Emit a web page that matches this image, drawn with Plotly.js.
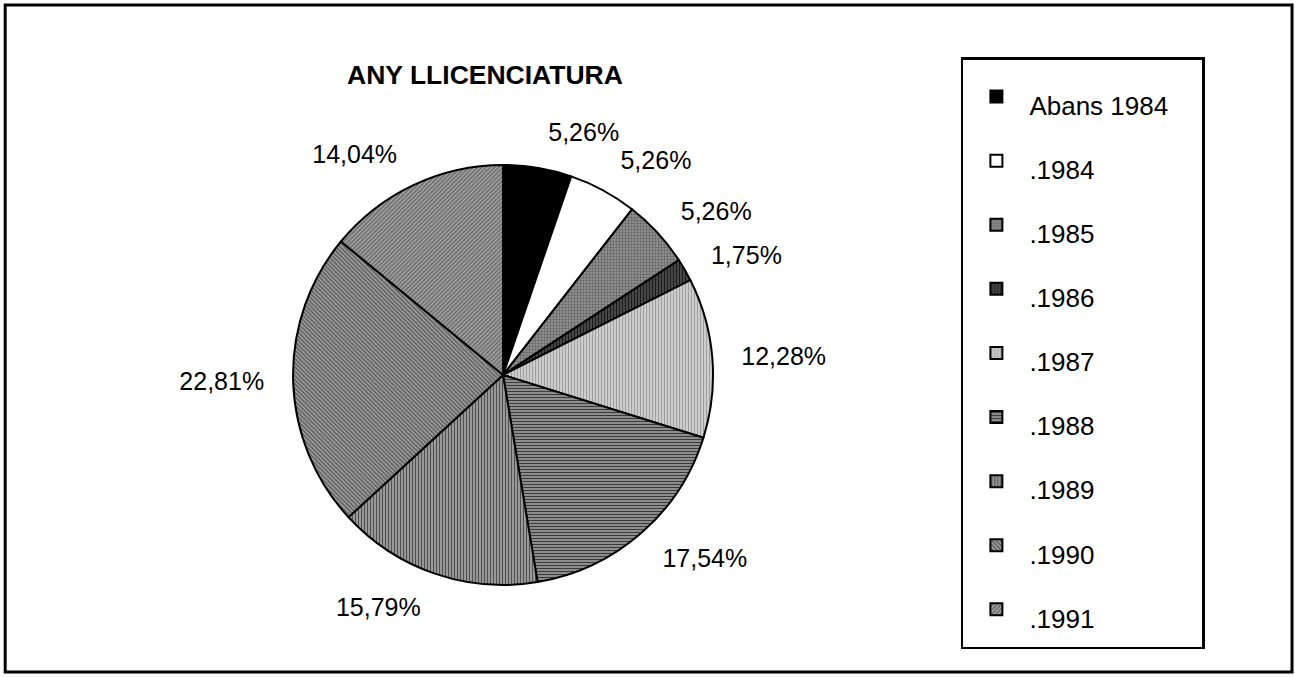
<!DOCTYPE html>
<html><head><meta charset="utf-8">
<script src="https://cdn.plot.ly/plotly-3.0.1.min.js"></script>
<style>html,body{margin:0;padding:0;background:#fff}#chart{width:1295px;height:677px}#chart path.textline{display:none}</style>
</head><body><div id="chart"></div>
<script>
const categories = ['Abans 1984', '.1984', '.1985', '.1986', '.1987', '.1988', '.1989', '.1990', '.1991'];
const counts = [3, 3, 3, 1, 7, 10, 9, 13, 8];
const sliceColors = ['#000000', '#ffffff', '#9a9a9a', '#555555', '#dcdcdc', '#a8a8a8', '#b0b0b0', '#a0a0a0', '#a6a6a6'];
const patternShapes = ['', '', '.', '|', '|', '-', '|', '\\', '/'];
const patternFg = ['#000000', '#000000', '#666666', '#1a1a1a', '#a0a0a0', '#3a3a3a', '#505050', '#5e5e5e', '#6a6a6a'];

const FONT = 'Arial, "Liberation Sans", sans-serif';
const PAD = '&nbsp;&nbsp;&nbsp;&nbsp;';
const legendLabels = categories.map(c => '<span style="font-size:26px">' + c + PAD + '</span>');

// main pie: slices + legend
const pieTrace = {
  type: 'pie',
  labels: legendLabels,
  values: counts,
  sort: false,
  direction: 'clockwise',
  rotation: 0,
  textinfo: 'none',
  hoverinfo: 'skip',
  marker: {
    colors: sliceColors,
    line: {color: '#000', width: 2},
    pattern: {shape: patternShapes, fgcolor: patternFg, bgcolor: sliceColors, size: 3, solidity: 0.5}
  },
  domain: {x: [0.2263, 0.5506], y: [0.1359, 0.7563]}
};

// invisible, slightly larger ring (same data) that carries the percentage labels
const labelTrace = {
  type: 'pie',
  labels: legendLabels,
  values: counts,
  sort: false,
  direction: 'clockwise',
  rotation: 0,
  showlegend: false,
  textposition: 'outside',
  texttemplate: '%{percent:.2%}',
  outsidetextfont: {family: FONT, size: 25, color: '#000000'},
  hoverinfo: 'skip',
  marker: {colors: categories.map(() => 'rgba(255,255,255,0)'), line: {width: 0, color: 'rgba(255,255,255,0)'}},
  domain: {x: [0.2093, 0.5676], y: [0.1034, 0.7888]}
};

const layout = {
  width: 1295, height: 677,
  margin: {l: 0, r: 0, t: 0, b: 0},
  paper_bgcolor: '#fff',
  separators: ',.',
  font: {family: FONT, color: '#000'},
  title: {
    text: '<b>ANY LLICENCIATURA</b>',
    font: {family: FONT, size: 26.5, color: '#000'},
    x: 0.3745, xanchor: 'center', xref: 'paper',
    y: 0.889, yanchor: 'middle', yref: 'container'
  },
  showlegend: true,
  legend: {
    x: 0.742, xanchor: 'left', y: 0.9158, yanchor: 'top',
    bordercolor: '#000', borderwidth: 2.5, bgcolor: '#fff',
    font: {family: FONT, size: 47, color: '#000'},
    itemwidth: 56, traceorder: 'normal'
  },
  shapes: [{
    type: 'rect', xref: 'paper', yref: 'paper',
    x0: 0.004, x1: 0.9977, y0: 0.0074, y1: 0.9926,
    line: {color: '#000', width: 3}, fillcolor: 'rgba(0,0,0,0)'
  }]
};

Plotly.newPlot('chart', [pieTrace, labelTrace], layout, {displayModeBar: false, staticPlot: true});
</script></body></html>
